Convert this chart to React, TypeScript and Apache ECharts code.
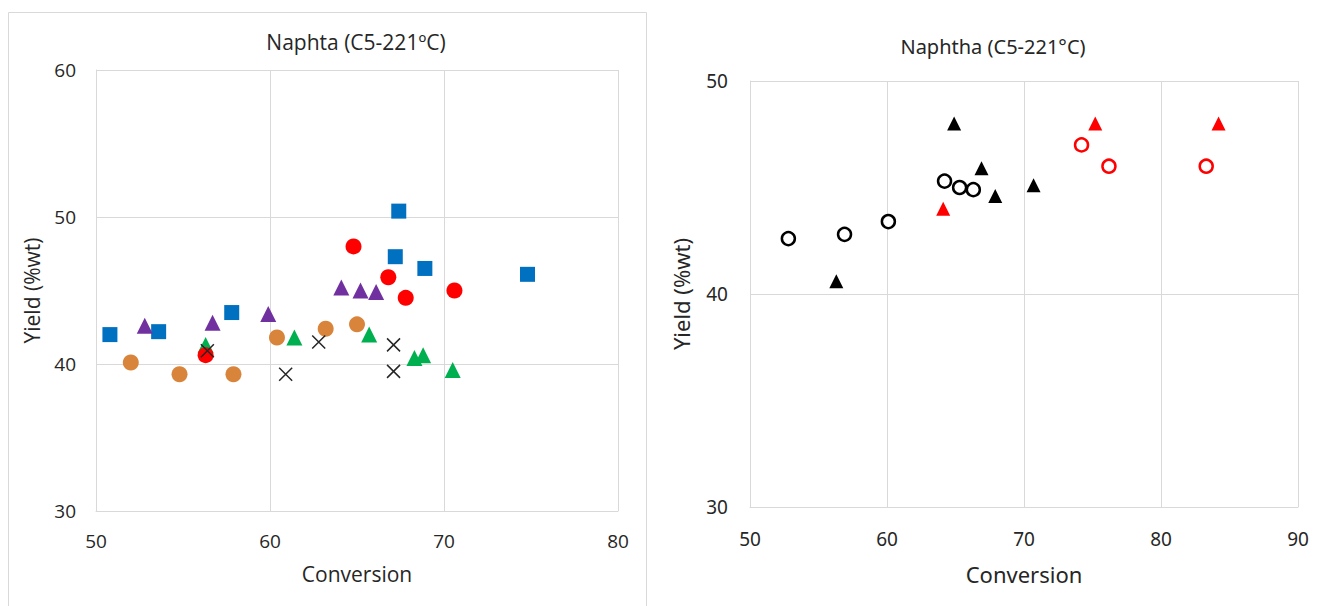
import React, { useEffect, useRef } from "react";
import * as echarts from "echarts";

// Left chart: Naphta (C5-221ºC) — [conversion, yield]
const leftBlueSquares = [[50.8, 42.0], [53.6, 42.2], [57.8, 43.5], [67.4, 50.4], [67.2, 47.3], [68.9, 46.5], [74.8, 46.1]];
const leftRedCircles = [[64.8, 48.0], [66.8, 45.9], [67.8, 44.5], [70.6, 45.0], [56.3, 40.6]];
const leftPurpleTriangles = [[52.8, 42.6], [56.7, 42.8], [59.9, 43.4], [64.1, 45.2], [65.2, 45.0], [66.1, 44.9]];
const leftOrangeCircles = [[52.0, 40.1], [54.8, 39.3], [57.9, 39.3], [60.4, 41.8], [63.2, 42.4], [65.0, 42.7]];
const leftGreenTriangles = [[56.3, 41.3], [61.4, 41.8], [65.7, 42.0], [68.3, 40.4], [68.8, 40.6], [70.5, 39.6]];
const leftBlackCrosses = [[56.4, 40.9], [60.9, 39.3], [62.8, 41.5], [67.1, 41.3], [67.1, 39.5]];

// Right chart: Naphtha (C5-221°C)
const rightBlackOpenCircles = [[52.8, 42.6], [56.9, 42.8], [60.1, 43.4], [64.2, 45.3], [65.3, 45.0], [66.3, 44.9]];
const rightBlackTriangles = [[56.3, 40.6], [64.9, 48.0], [66.9, 45.9], [67.9, 44.6], [70.7, 45.1]];
const rightRedTriangles = [[64.1, 44.0], [75.2, 48.0], [84.2, 48.0]];
const rightRedOpenCircles = [[74.2, 47.0], [76.2, 46.0], [83.3, 46.0]];

const leftTitle = "Naphta (C5-221ºC)";
const rightTitle = "Naphtha (C5-221°C)";
const xName = "Conversion";
const yName = "Yield (%wt)";

const CROSS = "path://M0,0L10,10M10,0L0,10";
const LFONT = "'Open Sans', 'Noto Sans', sans-serif";
const RFONT = "'Noto Sans', 'Open Sans', sans-serif";
const GRID = "#d9d9d9";
const TXT = "#262626";

export default function App() {
  const ref = useRef<HTMLDivElement>(null);
  useEffect(() => {
    document.body.style.margin = "0";
    const chart = echarts.init(ref.current!, null, { renderer: "svg" });
    const axisCommon = (font: string, labelSize: number, nameSize: number, margin: number) => ({
      axisLine: { show: true, lineStyle: { color: GRID, width: 1 } },
      axisTick: { show: false },
      splitLine: { show: true, lineStyle: { color: GRID, width: 1 } },
      axisLabel: { color: TXT, fontSize: labelSize, fontFamily: font, margin },
      nameLocation: "middle" as const,
      nameTextStyle: { color: TXT, fontSize: nameSize, fontFamily: font },
    });
    const sc = (name: string, data: number[][], gi: number, symbol: string, size: number, style: any) => ({
      type: "scatter",
      name,
      xAxisIndex: gi,
      yAxisIndex: gi,
      data,
      symbol,
      symbolSize: size,
      itemStyle: { opacity: 1, ...style },
      emphasis: { disabled: true },
    });
    chart.setOption({
      animation: false,
      backgroundColor: "#ffffff",
      graphic: [
        {
          type: "rect",
          shape: { x: 8.5, y: 12.5, width: 638, height: 600 },
          style: { fill: "none", stroke: GRID, lineWidth: 1 },
          silent: true,
        },
      ],
      title: [
        {
          text: leftTitle,
          left: 351,
          top: 26,
          textAlign: "center",
          textStyle: { fontSize: 21, fontWeight: "normal", color: TXT, fontFamily: LFONT },
        },
        {
          text: rightTitle,
          left: 988,
          top: 31,
          textAlign: "center",
          textStyle: { fontSize: 20, fontWeight: "normal", color: TXT, fontFamily: RFONT },
        },
      ],
      grid: [
        { left: 96, top: 70, width: 522, height: 441 },
        { left: 750, top: 81, width: 548, height: 426 },
      ],
      xAxis: [
        {
          ...axisCommon(LFONT, 19, 21, 20),
          gridIndex: 0,
          type: "value",
          min: 50,
          max: 80,
          interval: 10,
          name: xName,
          nameGap: 52,
        },
        {
          ...axisCommon(RFONT, 19, 22, 22),
          gridIndex: 1,
          type: "value",
          min: 50,
          max: 90,
          interval: 10,
          name: xName,
          nameGap: 56,
        },
      ],
      yAxis: [
        {
          ...axisCommon(LFONT, 19, 21, 20),
          gridIndex: 0,
          type: "value",
          min: 30,
          max: 60,
          interval: 10,
          name: yName,
          nameGap: 54,
        },
        {
          ...axisCommon(RFONT, 19, 22, 22),
          gridIndex: 1,
          type: "value",
          min: 30,
          max: 50,
          interval: 10,
          name: yName,
          nameGap: 58,
        },
      ],
      series: [
        sc("blue", leftBlueSquares, 0, "rect", 15, { color: "#0070c0" }),
        sc("orange", leftOrangeCircles, 0, "circle", 16, { color: "#d9843b" }),
        sc("purple", leftPurpleTriangles, 0, "triangle", 16, { color: "#7030a0" }),
        sc("green", leftGreenTriangles, 0, "triangle", 16, { color: "#00b050" }),
        sc("red", leftRedCircles, 0, "circle", 16, { color: "#ff0000" }),
        sc("cross", leftBlackCrosses, 0, CROSS, 13, { color: "none", borderColor: TXT, borderWidth: 1.5 }),
        sc("rOpenBlack", rightBlackOpenCircles, 1, "circle", 13, { color: "#ffffff", borderColor: "#000000", borderWidth: 2.5 }),
        sc("rTriBlack", rightBlackTriangles, 1, "triangle", 14, { color: "#000000" }),
        sc("rTriRed", rightRedTriangles, 1, "triangle", 14, { color: "#ff0000" }),
        sc("rOpenRed", rightRedOpenCircles, 1, "circle", 13, { color: "#ffffff", borderColor: "#ff0000", borderWidth: 2.5 }),
      ],
    });
    return () => chart.dispose();
  }, []);
  return <div ref={ref} style={{ width: 1317, height: 606 }} />;
}
